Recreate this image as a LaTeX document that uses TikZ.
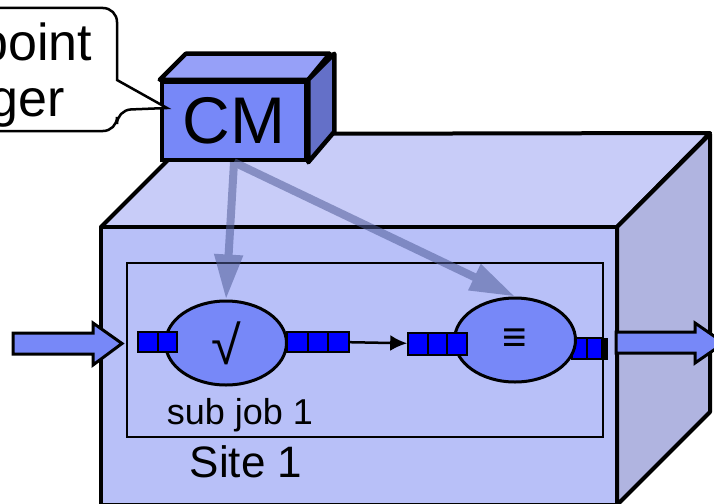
\documentclass[tikz,border=0pt]{standalone}
\usepackage{fontspec}
\setmainfont{Liberation Sans}
\setsansfont{Liberation Sans}
\usetikzlibrary{arrows.meta}
\usetikzlibrary{shapes.geometric}
\definecolor{cmfront}{HTML}{7788F8}
\definecolor{cmtop}{HTML}{96A0F8}
\definecolor{cmside}{HTML}{6470C8}
\definecolor{sitefront}{HTML}{B8C0F8}
\definecolor{sitetop}{HTML}{C8CCF8}
\definecolor{siteside}{HTML}{B0B4E0}
\definecolor{slotblue}{HTML}{0000FF}
\definecolor{ctrl}{HTML}{505C98}
\newcommand*{\cmdp }{26}   % depth of the CM box
\newcommand*{\sitedp}{93}  % depth of the site box
\newcommand*{\setfs}[2]{\fontsize{#1}{#2}\selectfont}

\begin{document}
\begin{tikzpicture}[x=1pt, y=-1pt, font=\sffamily,
    face/.style={draw=black, line width=4pt, line join=round},
    slot/.style={draw=black, line width=2pt, fill=slotblue, minimum width=19.6pt, minimum height=20pt, inner sep=0pt},
    job/.style={ellipse, draw=black, line width=3pt, fill=cmfront, minimum width=121pt, minimum height=84pt, inner sep=0pt},
    blockarrow/.style={draw=black, line width=3pt, fill=cmfront},
    ctrlarrow/.style={draw=ctrl, line width=8pt, -{Triangle[length=45pt,width=27pt]}}]
    \useasboundingbox (0,0) rectangle (714,503);
    \clip (0,0) rectangle (714,503);
    % site box
    \draw [face, fill=sitetop ] (101,227) -- ++(\sitedp,-\sitedp) -- (710,133) -- (617,227) -- cycle;
    \draw [face, fill=siteside] (617,227) -- ++(\sitedp,-\sitedp) -- ++(0,278) -- (617,505) -- cycle;
    \draw [face, fill=sitefront] (101,227) rectangle (617,505);
    \draw [line width=2.5pt] (127,263) rectangle (603,437);
    % checkpoint manager
    \node [draw=black, line width=4.5pt, fill=cmfront, minimum width=144pt, minimum height=78pt, inner sep=0pt, font=\setfs{66}{72}] (cm) at (234,121) {CM};
    \draw [line width=4.5pt, line join=round, fill=cmtop ] (cm.north west) -- ++(\cmdp,-\cmdp) -- ++(144,0) -- (cm.north east) -- cycle;
    \draw [line width=4.5pt, line join=round, fill=cmside] (cm.north east) -- ++(\cmdp,-\cmdp) -- ++(0,78) -- (cm.south east) -- cycle;
    \draw [line width=2.5pt, fill=white] (167,108) -- (117,80) -- (117,40) [rounded corners=14pt] -- (117,8) -- (-250,8) -- (-250,131) -- (117,131) -- (117,110) [sharp corners] -- cycle;
    \node [align=center, font=\setfs{52}{56}] (mgr) at (-38,75.5) {Checkpoint\\Manager};
    % in and out
    \draw [blockarrow] (13,333) -- (93,333) -- (93,323) -- (122,343.5) -- (93,365) -- (93,354) -- (13,354) -- cycle;
    \draw [blockarrow] (616,332) -- (695,332) -- (695,323) -- (724,343) -- (695,363) -- (695,353) -- (616,353) -- cycle;
    % queue behind the second job
    \node [slot, minimum width=15pt, minimum height=21pt] (d1) at (579.5,348.5) {};
    \node [slot, minimum width=15pt, minimum height=21pt] (d2) at (594.5,348.5) {};
    \node [draw=black, fill=black, minimum width=5pt, minimum height=21pt, inner sep=0pt] (d3) at (604.5,348.5) {};
    % sub jobs
    \node [job, font=\setfs{54}{60}] (job1) at (226,343) {√};
    \node [job, font=\bfseries\setfs{42}{48}] (job2) at (515,340) {\raisebox{-3pt}{≡}};
    \node [slot] (a1) at (148,342) {};
    \node [slot] (a2) at (167.5,342) {};
    \node [slot, minimum width=20.7pt] (b1) at (297.5,342) {};
    \node [slot, minimum width=20.7pt] (b2) at (318,342) {};
    \node [slot, minimum width=20.7pt] (b3) at (338.5,342) {};
    \node [slot, minimum height=22pt] (c1) at (418,343.5) {};
    \node [slot, minimum height=22pt] (c2) at (437.5,343.5) {};
    \node [slot, minimum height=22pt] (c3) at (457,343.5) {};
    \draw [line width=2.5pt, -{Latex[length=17pt,width=16pt]}] (b3) -- (c1);
    \node [anchor=base, font=\setfs{36}{40}] (sub) at (240,424) {sub job 1};
    \node [anchor=base, font=\setfs{44}{48}] (site) at (246,477) {Site 1};
    % control from the CM
    \begin{scope}[transparency group, opacity=0.55]
        \draw [ctrlarrow] (cm.south) -- (job1.north);
        \draw [ctrlarrow] (cm.south) -- (job2.north);
    \end{scope}
\end{tikzpicture}
\end{document}
